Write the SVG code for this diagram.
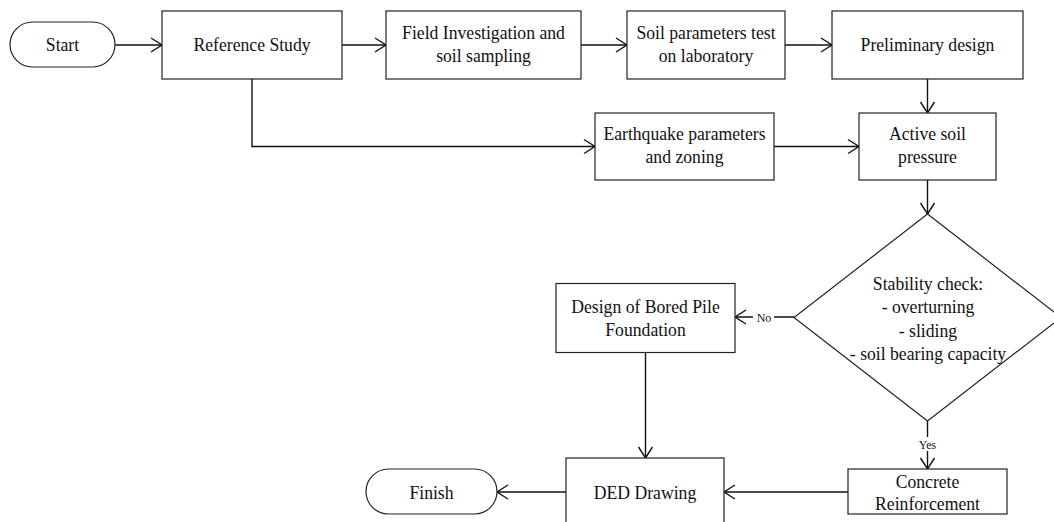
<svg xmlns="http://www.w3.org/2000/svg" width="1054" height="522" viewBox="0 0 1054 522">
<style>
.box{fill:#fff;stroke:#222;stroke-width:1.2}
.t{font-family:"Liberation Serif","Times New Roman",serif;font-size:19px;fill:#111;text-anchor:middle;transform-box:fill-box;transform-origin:center;transform:scaleX(0.93)}
.lbl{font-family:"Liberation Serif","Times New Roman",serif;font-size:12px;fill:#111;text-anchor:middle}
.c{fill:none;stroke:#111;stroke-width:1.4}
</style>
<defs>
<marker id="arr" markerUnits="userSpaceOnUse" markerWidth="14" markerHeight="16" refX="12" refY="8" orient="auto" overflow="visible">
<path d="M1,1 L12,8 L1,15" fill="none" stroke="#111" stroke-width="1.4"/>
</marker>
</defs>
<rect width="1054" height="522" fill="#fff"/>
<g id="connectors">
<line class="c" x1="115" y1="45" x2="162" y2="45" marker-end="url(#arr)"/>
<line class="c" x1="342" y1="45" x2="386" y2="45" marker-end="url(#arr)"/>
<line class="c" x1="581" y1="45" x2="627" y2="45" marker-end="url(#arr)"/>
<line class="c" x1="785" y1="45" x2="832" y2="45" marker-end="url(#arr)"/>
<line class="c" x1="927.5" y1="79" x2="927.5" y2="113" marker-end="url(#arr)"/>
<polyline class="c" points="252,79 252,146.5 595,146.5" marker-end="url(#arr)"/>
<line class="c" x1="774" y1="146.5" x2="859" y2="146.5" marker-end="url(#arr)"/>
<line class="c" x1="927.5" y1="180" x2="927.5" y2="214" marker-end="url(#arr)"/>
<line class="c" x1="794" y1="317" x2="735" y2="317" marker-end="url(#arr)"/>
<line class="c" x1="927.5" y1="421" x2="927.5" y2="469" marker-end="url(#arr)"/>
<line class="c" x1="645.5" y1="353" x2="645.5" y2="458" marker-end="url(#arr)"/>
<line class="c" x1="848" y1="492" x2="724" y2="492" marker-end="url(#arr)"/>
<line class="c" x1="566" y1="492" x2="497" y2="492" marker-end="url(#arr)"/>
<rect x="753" y="310" width="21" height="14" fill="#fff"/>
<text class="lbl" x="764" y="321.5">No</text>
<rect x="916" y="437" width="23" height="14" fill="#fff"/>
<text class="lbl" x="927.5" y="449">Yes</text>
</g>
<g id="start">
<rect class="box" x="10" y="22" width="105" height="45" rx="22.5"/>
<text class="t" x="62.5" y="51">Start</text>
</g>
<g id="reference-study">
<rect class="box" x="162" y="11" width="180" height="68"/>
<text class="t" x="252" y="51">Reference Study</text>
</g>
<g id="field-investigation">
<rect class="box" x="386" y="11" width="195" height="68"/>
<text class="t" x="483.5" y="39.5">Field Investigation and</text>
<text class="t" x="483.5" y="62">soil sampling</text>
</g>
<g id="soil-parameters">
<rect class="box" x="627" y="11" width="158" height="68"/>
<text class="t" x="706" y="39.5">Soil parameters test</text>
<text class="t" x="706" y="62">on laboratory</text>
</g>
<g id="preliminary-design">
<rect class="box" x="832" y="11" width="191" height="68"/>
<text class="t" x="927.5" y="51">Preliminary design</text>
</g>
<g id="earthquake">
<rect class="box" x="595" y="113" width="179" height="67"/>
<text class="t" x="684.5" y="140.5">Earthquake parameters</text>
<text class="t" x="684.5" y="163">and zoning</text>
</g>
<g id="active-soil">
<rect class="box" x="859" y="113" width="137" height="67"/>
<text class="t" x="927.5" y="140.5">Active soil</text>
<text class="t" x="927.5" y="163">pressure</text>
</g>
<g id="stability-check">
<polygon class="box" points="927.5,214 1061,317.5 927.5,421 794,317.5"/>
<text class="t" x="928" y="290">Stability check:</text>
<text class="t" x="928" y="313.5">- overturning</text>
<text class="t" x="928" y="337">- sliding</text>
<text class="t" x="928" y="360.5">- soil bearing capacity</text>
</g>
<g id="bored-pile">
<rect class="box" x="556" y="283.5" width="179" height="69"/>
<text class="t" x="645.5" y="313">Design of Bored Pile</text>
<text class="t" x="645.5" y="336">Foundation</text>
</g>
<g id="concrete-reinforcement">
<rect class="box" x="848" y="469" width="159" height="45"/>
<text class="t" x="927.5" y="488">Concrete</text>
<text class="t" x="927.5" y="510.5">Reinforcement</text>
</g>
<g id="ded-drawing">
<rect class="box" x="566" y="458" width="158" height="68"/>
<text class="t" x="645" y="499">DED Drawing</text>
</g>
<g id="finish">
<rect class="box" x="366" y="469" width="131" height="45" rx="22.5"/>
<text class="t" x="431.5" y="499">Finish</text>
</g>
</svg>
